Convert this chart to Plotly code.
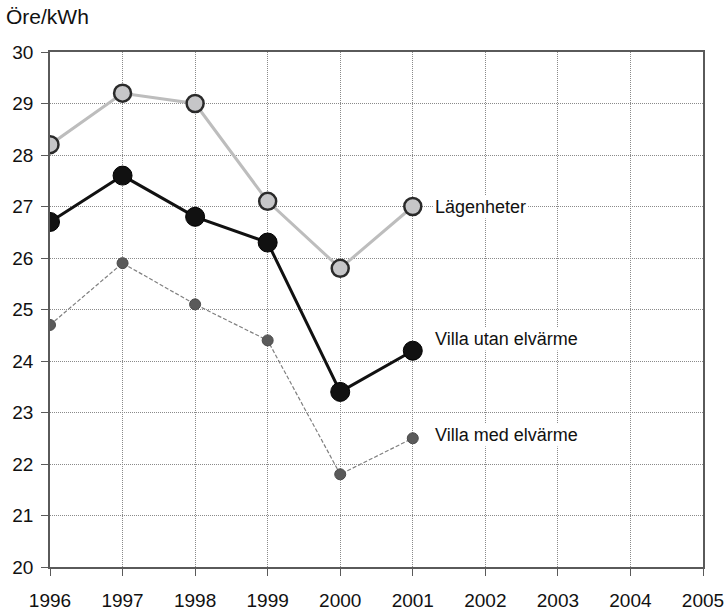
import plotly.graph_objects as go

years = [1996, 1997, 1998, 1999, 2000, 2001]
lagenheter = [28.2, 29.2, 29.0, 27.1, 25.8, 27.0]
villa_utan = [26.7, 27.6, 26.8, 26.3, 23.4, 24.2]
villa_med = [24.7, 25.9, 25.1, 24.4, 21.8, 22.5]

series_names = ["Lägenheter", "Villa utan elvärme", "Villa med elvärme"]
label_y = [27.0, 24.42, 22.56]
x_ticks = list(range(1996, 2006))
y_ticks = list(range(20, 31))

FONT = "Liberation Sans, Arial, sans-serif"

fig = go.Figure()
fig.add_trace(go.Scatter(
    x=years, y=villa_med, mode="lines+markers", name=series_names[2],
    line=dict(color="#808080", width=1.2, dash="4px,2px"),
    marker=dict(size=11, color="#5a5a5a", line=dict(color="#4a4a4a", width=1)),
))
fig.add_trace(go.Scatter(
    x=years, y=lagenheter, mode="lines+markers", name=series_names[0],
    line=dict(color="#bdbdbd", width=3),
    marker=dict(size=17, color="#c6c6c8", line=dict(color="#2a2a2a", width=2.5)),
))
fig.add_trace(go.Scatter(
    x=years, y=villa_utan, mode="lines+markers", name=series_names[1],
    line=dict(color="#111111", width=3),
    marker=dict(size=19, color="#111111", line=dict(color="#000000", width=1)),
))

for name, yv in zip(series_names, label_y):
    fig.add_annotation(x=years[-1], y=yv, text=name, showarrow=False,
                       xanchor="left", yanchor="middle", xshift=20,
                       font=dict(family=FONT, size=18, color="#111111"),
                       bgcolor="white")

fig.add_annotation(xref="paper", yref="paper", x=0, y=1, xshift=-46, yshift=22,
                   text="Öre/kWh", showarrow=False, xanchor="left", yanchor="bottom",
                   font=dict(family=FONT, size=21, color="#111111"))

axis_common = dict(showgrid=True, gridcolor="#8a8a8a", griddash="1px,1px", gridwidth=1,
                   showline=True, linecolor="#5a5a5a", linewidth=1.5, mirror=True,
                   ticks="outside", ticklen=7, tickcolor="#5a5a5a", automargin=False,
                   tickfont=dict(family=FONT, size=19, color="#111111"), zeroline=False)
fig.update_xaxes(range=[1996, 2005], tickvals=x_ticks, ticktext=[str(v) for v in x_ticks],
                 ticklabelstandoff=8, **axis_common)
fig.update_yaxes(range=[20, 30], tickvals=y_ticks, ticklabelstandoff=4, **axis_common)

fig.update_layout(width=727, height=611, plot_bgcolor="white", paper_bgcolor="white",
                  showlegend=False, margin=dict(l=50, r=24, t=52, b=44, autoexpand=False))

fig.write_html("out.html", config={"displayModeBar": False},
               post_script="document.body.style.margin='0';document.body.style.overflow='hidden';")
